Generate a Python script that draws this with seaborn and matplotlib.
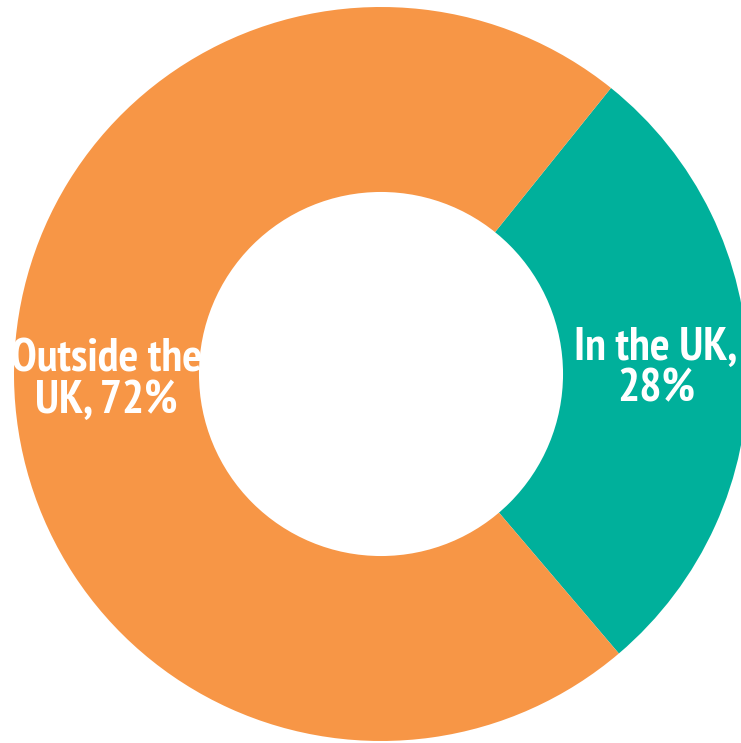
import matplotlib
matplotlib.use("Agg")
import matplotlib.pyplot as plt
import seaborn as sns
from matplotlib.patches import Circle
from matplotlib import font_manager as fm

categories = ["In the UK", "Outside the UK"]
values = [28, 72]
labels = ["In the UK,\n28%", "Outside the\nUK, 72%"]
colors = ["#00B09B", "#F79646"]

sns.set_theme(style="white")
plt.rcParams['font.family'] = ['DejaVu Sans']


def pick_font():
    fonts = fm.fontManager.ttflist
    # prefer a narrow bold sans (Arial Narrow-like)
    for f in fonts:
        n = (f.name + " " + f.fname).lower()
        if "narrow" in n and ("bold" in n or f.weight in (700, "bold")) and "italic" not in n and "oblique" not in n:
            return fm.FontProperties(fname=f.fname), 33.5
    for f in fonts:
        n = (f.name + " " + f.fname).lower()
        if "condensed" in n and "bold" in n and "italic" not in n and "oblique" not in n and "extra" not in n and "semi" not in n:
            return fm.FontProperties(fname=f.fname), 33.5
    return fm.FontProperties(family="Liberation Sans", weight="bold"), 26


fp, fsize = pick_font()
fp.set_size(fsize)

fig = plt.figure(figsize=(7.41, 7.43), dpi=100)
ax = fig.add_axes([14/741, 2/743, 734/741, 734/743])
wedges, _ = ax.pie(values, colors=colors, startangle=-49.6, counterclock=True,
                   radius=1.0, wedgeprops=dict(linewidth=0))
ax.set_xlim(-1, 1)
ax.set_ylim(-1, 1)
ax.set_aspect('auto')
ax.axis('off')

label_pos = [(0.749, 0.015), (-0.749, -0.016)]
for lab, (x, y) in zip(labels, label_pos):
    ax.text(x, y, lab, ha='center', va='center', color='white',
            fontproperties=fp, linespacing=0.98, zorder=3)

ax.add_patch(Circle((0, 0), 0.496, color='white', zorder=4, linewidth=0))

fig.savefig("out.png", dpi=100)
